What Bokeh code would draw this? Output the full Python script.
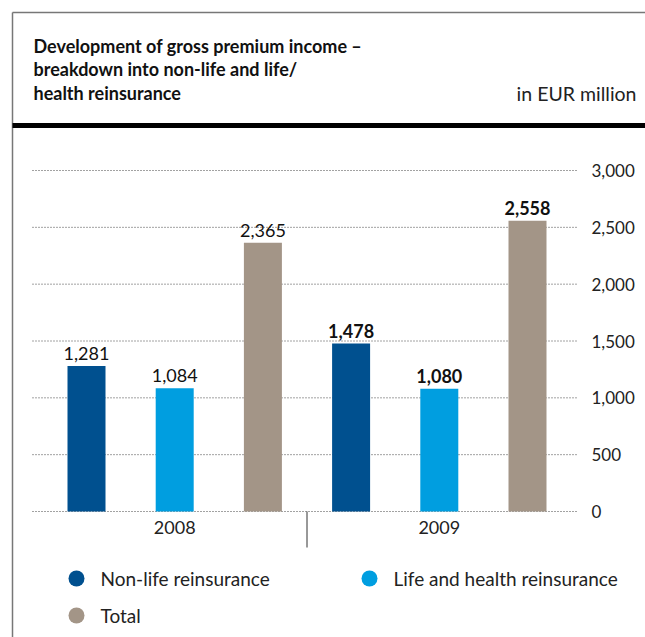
from bokeh.plotting import figure
from bokeh.models import Range1d
from bokeh.embed import file_html
from bokeh.resources import INLINE
from bokeh.core.properties import value

# ---- data ----
years = ["2008", "2009"]
series = ["Non-life reinsurance", "Life and health reinsurance", "Total"]
nonlife = [1281, 1478]
life = [1084, 1080]
total = [2365, 2558]
y_ticks = [0, 500, 1000, 1500, 2000, 2500, 3000]
y_tick_labels = ["0", "500", "1,000", "1,500", "2,000", "2,500", "3,000"]
colors = ["#00508f", "#009ee0", "#a39587"]
title_lines = ["Development of gross premium income \u2013",
               "breakdown into non-life and life/",
               "health reinsurance"]
unit_text = "in EUR million"

FONT = "Lato"
W, H = 645, 637
X0PX, XSTEP = 86.0, 88.2
Y0PX, YSCALE = 511.0, 341.0 / 3000


def px(x):
    return (x - X0PX) / XSTEP


def py(y):
    return (Y0PX - y) / YSCALE


p = figure(width=W, height=H, x_range=Range1d(px(0), px(W)), y_range=Range1d(py(H), py(0)),
           output_backend="svg", toolbar_location=None, min_border=0,
           x_axis_location=None, y_axis_location=None)
p.grid.visible = False
p.outline_line_color = None
p.background_fill_color = "white"

# frame lines
p.segment(x0=[px(12), px(12)], y0=[py(12), py(12)], x1=[px(W), px(12)], y1=[py(12), py(H)],
          line_color="#777777", line_width=1.5)
p.segment(x0=[px(12)], y0=[py(125)], x1=[px(W)], y1=[py(125)], line_color="black", line_width=5)

# title
for i, t in enumerate(title_lines):
    p.text(x=[px(33)], y=[py(45 + 23.5 * i)], text=[t], text_font=value(FONT), text_font_style="bold",
           text_font_size="18px", text_baseline="middle", text_align="left", text_color="#111111")
p.text(x=[px(636)], y=[py(93)], text=[unit_text], text_font=value(FONT), text_font_size="19.5px",
       text_baseline="middle", text_align="right", text_color="#222222")

# gridlines
p.segment(x0=[px(32)] * len(y_ticks), x1=[px(578)] * len(y_ticks), y0=y_ticks, y1=y_ticks,
          line_color="#444444", line_width=1, line_dash="1 2")
p.text(x=[px(591)] * len(y_ticks), y=y_ticks, text=y_tick_labels, text_font=value(FONT),
       text_font_size="17px", text_baseline="middle", text_align="left", text_color="#222222")

# bars
bw = 38 / XSTEP
vals = [nonlife, life, total]
for si, s in enumerate(series):
    xs = [gi * 3 + si for gi in range(len(years))]
    p.vbar(x=xs, top=vals[si], width=bw, bottom=0, fill_color=colors[si], line_color=None)
    for gi in range(len(years)):
        p.text(x=[xs[gi]], y=[vals[si][gi]], text=[f"{vals[si][gi]:,}"], text_font=value(FONT),
               text_font_size="18px", text_font_style="bold" if gi == 1 else "normal",
               text_align="center", text_baseline="bottom", y_offset=-6, text_color="#111111")

# group separator and labels
p.segment(x0=[2.5], x1=[2.5], y0=[0], y1=[py(547)], line_color="#333333", line_width=1)
p.text(x=[gi * 3 + 1 for gi in range(len(years))], y=[0, 0], text=years, text_font=value(FONT),
       text_font_size="18px", text_align="center", text_baseline="top", y_offset=9, text_color="#222222")

# legend
leg_pos = [(76, 578), (369, 578), (76, 615)]
for si, s in enumerate(series):
    lx, ly = leg_pos[si]
    p.scatter(x=[px(lx)], y=[py(ly)], size=16, marker="circle", fill_color=colors[si], line_color=None)
    p.text(x=[px(lx + 24)], y=[py(ly)], text=[s], text_font=value(FONT), text_font_size="19px",
           text_baseline="middle", text_align="left", text_color="#222222")

open("out.html", "w").write(file_html(p, INLINE))
